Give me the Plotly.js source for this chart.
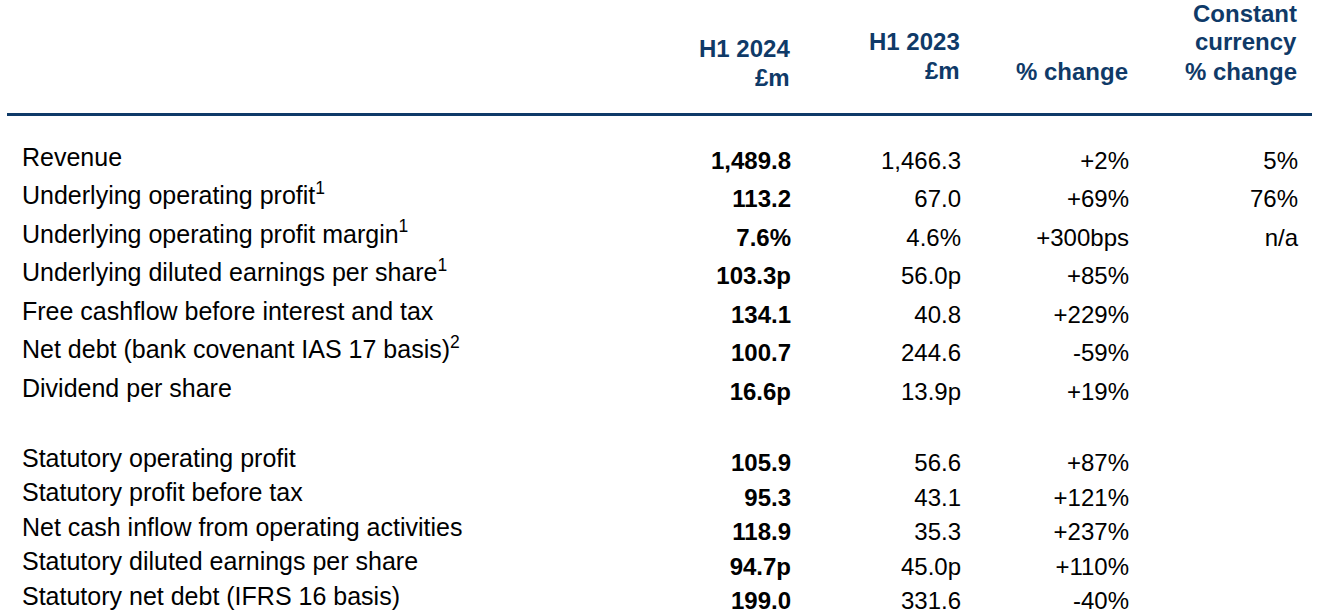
<!DOCTYPE html>
<html><head><meta charset="utf-8">
<script src="https://cdn.plot.ly/plotly-3.0.1.min.js"></script>
<style>html,body{margin:0;padding:0;background:#fff}#chart{width:1320px;height:616px}</style>
</head><body><div id="chart"></div>
<script>
// ---- data ----
const underlyingLabels = [
  "Revenue",
  "Underlying operating profit<sup>1</sup>",
  "Underlying operating profit margin<sup>1</sup>",
  "Underlying diluted earnings per share<sup>1</sup>",
  "Free cashflow before interest and tax",
  "Net debt (bank covenant IAS 17 basis)<sup>2</sup>",
  "Dividend per share"
];
const underlyingH12024 = ["1,489.8", "113.2", "7.6%", "103.3p", "134.1", "100.7", "16.6p"];
const underlyingH12023 = ["1,466.3", "67.0", "4.6%", "56.0p", "40.8", "244.6", "13.9p"];
const underlyingChange = ["+2%", "+69%", "+300bps", "+85%", "+229%", "-59%", "+19%"];
const underlyingCC = ["5%", "76%", "n/a"];

const statutoryLabels = [
  "Statutory operating profit",
  "Statutory profit before tax",
  "Net cash inflow from operating activities",
  "Statutory diluted earnings per share",
  "Statutory net debt (IFRS 16 basis)"
];
const statutoryH12024 = ["105.9", "95.3", "118.9", "94.7p", "199.0"];
const statutoryH12023 = ["56.6", "43.1", "35.3", "45.0p", "331.6"];
const statutoryChange = ["+87%", "+121%", "+237%", "+110%", "-40%"];

const columnHeaders = [
  ["H1 2024", "£m"],
  ["H1 2023", "£m"],
  ["% change"],
  ["Constant", "currency", "% change"]
];

// ---- layout constants ----
const W = 1320, H = 616;
const BLUE = "#0f3a68";
const TXT = "#000000";
const FONT = "Liberation Sans, Arial, sans-serif";
const FS = 24;
const FS_LABEL = 25;
const LABEL_X = 22;
const COL_RIGHT = [791, 961, 1129, 1298];
const HEADER_CENTERS = [[48, 77], [42, 70], [71], [14, 42, 71]];

function rowAxis(firstPx, pitch, n, shift) {
  const c0 = firstPx + shift;
  let top = c0 - pitch / 2, bot = c0 + (n - 0.5) * pitch;
  top = Math.max(0, top); bot = Math.min(H, bot);
  return {
    domain: [1 - bot / H, 1 - top / H],
    range: [(bot - c0) / pitch, (top - c0) / pitch],
    visible: false, fixedrange: true, anchor: "x", showgrid: false, zeroline: false
  };
}

const idx = a => a.map((_, i) => i);
function textTrace(vals, x, yaxis, align, bold, size) {
  return {
    type: "scatter", mode: "text", x: vals.map(() => x), y: idx(vals), text: vals,
    yaxis: yaxis, xaxis: "x",
    textposition: align === "left" ? "middle right" : "middle left",
    textfont: {family: FONT, size: size, color: TXT, weight: bold ? 700 : 400},
    hoverinfo: "skip", showlegend: false, cliponaxis: false
  };
}

const traces = [
  textTrace(underlyingLabels, LABEL_X, "y2", "left", false, FS_LABEL),
  textTrace(underlyingH12024, COL_RIGHT[0], "y", "right", true, FS),
  textTrace(underlyingH12023, COL_RIGHT[1], "y", "right", false, FS),
  textTrace(underlyingChange, COL_RIGHT[2], "y", "right", false, FS),
  textTrace(underlyingCC, COL_RIGHT[3], "y", "right", false, FS),
  textTrace(statutoryLabels, LABEL_X, "y4", "left", false, FS_LABEL),
  textTrace(statutoryH12024, COL_RIGHT[0], "y3", "right", true, FS),
  textTrace(statutoryH12023, COL_RIGHT[1], "y3", "right", false, FS),
  textTrace(statutoryChange, COL_RIGHT[2], "y3", "right", false, FS)
];

const annotations = [];
columnHeaders.forEach((lines, c) => {
  lines.forEach((ln, k) => {
    annotations.push({
      text: ln, xref: "x", x: COL_RIGHT[c], xanchor: "right",
      yref: "paper", y: 1 - HEADER_CENTERS[c][k] / H, yanchor: "middle",
      showarrow: false, borderpad: 0,
      font: {family: FONT, size: FS, color: BLUE, weight: 700}
    });
  });
});

const layout = {
  width: W, height: H,
  margin: {l: 0, r: 0, t: 0, b: 0, pad: 0},
  paper_bgcolor: "#ffffff", plot_bgcolor: "rgba(0,0,0,0)",
  xaxis: {range: [0, W], visible: false, fixedrange: true, anchor: "y", showgrid: false, zeroline: false},
  yaxis: rowAxis(160.5, 38.5, 7, 2),
  yaxis2: rowAxis(160.5, 38.5, 7, -1),
  yaxis3: rowAxis(462.5, 34.5, 5, 2.5),
  yaxis4: rowAxis(462.5, 34.5, 5, -2),
  shapes: [{
    type: "line", xref: "x", yref: "paper", x0: 7, x1: 1312,
    y0: 1 - 114.5 / H, y1: 1 - 114.5 / H, line: {color: BLUE, width: 3}
  }],
  annotations: annotations,
  showlegend: false, hovermode: false
};

Plotly.newPlot("chart", traces, layout, {displayModeBar: false, staticPlot: true});
</script>
</body></html>
